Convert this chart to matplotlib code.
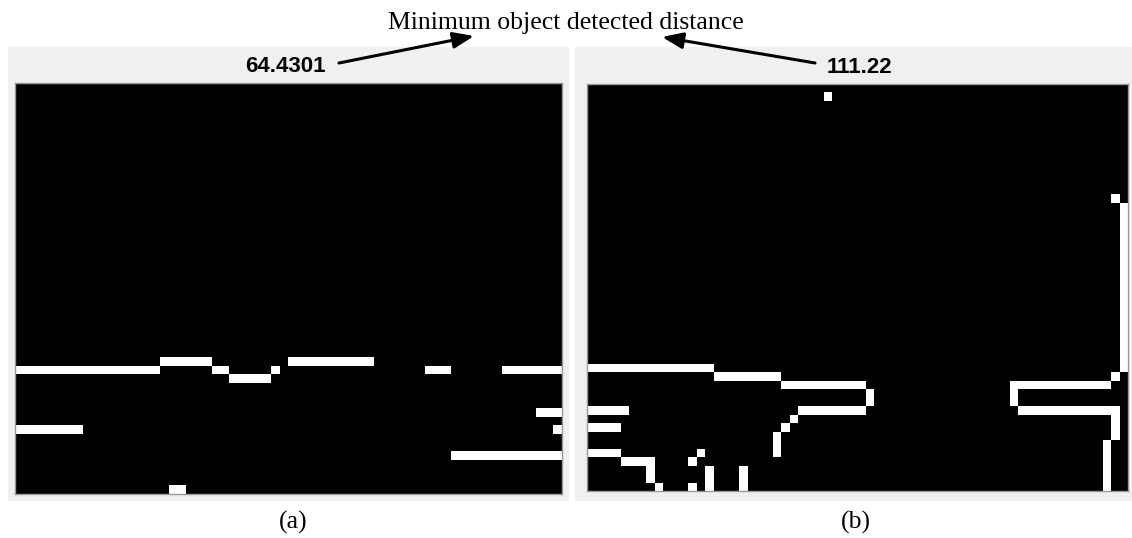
import numpy as np
import matplotlib
matplotlib.use("Agg")
import matplotlib.pyplot as plt
from matplotlib.patches import Rectangle, FancyArrowPatch

W, H = 1132, 538
ROWS, COLS = 48, 64

# white runs in each binary image: (row, first col, last col)
left_runs = [
    (32, 17, 22), (32, 32, 41),
    (33, 0, 16), (33, 23, 24), (33, 30, 30), (33, 48, 50), (33, 57, 63),
    (34, 25, 29),
    (38, 61, 63),
    (40, 0, 7), (40, 63, 63),
    (43, 51, 63),
    (47, 18, 19),
]
right_runs = [
    (1, 28, 28), (13, 62, 62),
    (33, 0, 14),
    (34, 15, 22), (34, 62, 62),
    (35, 23, 32), (35, 50, 61),
    (36, 33, 33), (36, 50, 50),
    (37, 33, 33), (37, 50, 50),
    (38, 0, 4), (38, 25, 32), (38, 51, 62),
    (39, 24, 24), (39, 62, 62),
    (40, 0, 3), (40, 23, 23), (40, 62, 62),
    (41, 22, 22), (41, 62, 62),
    (42, 22, 22), (42, 61, 61),
    (43, 0, 3), (43, 13, 13), (43, 22, 22), (43, 61, 61),
    (44, 4, 7), (44, 12, 12), (44, 61, 61),
    (45, 7, 7), (45, 14, 14), (45, 18, 18), (45, 61, 61),
    (46, 7, 7), (46, 14, 14), (46, 18, 18), (46, 61, 61),
    (47, 8, 8), (47, 12, 12), (47, 14, 14), (47, 18, 18), (47, 61, 61),
]
# vertical runs: (col, first row, last row)
right_vruns = [(63, 14, 33)]

titles = ["64.4301", "111.22"]
captions = ["(a)", "(b)"]
note = "Minimum object detected distance"


def build(runs, vruns=()):
    img = np.zeros((ROWS, COLS))
    for r, c0, c1 in runs:
        img[r, c0:c1 + 1] = 1
    for c, r0, r1 in vruns:
        img[r0:r1 + 1, c] = 1
    return img


def box(x0, y0, x1, y1):
    # pixel box (top-left origin) -> figure rect
    return [x0 / W, 1 - y1 / H, (x1 - x0) / W, (y1 - y0) / H]


def fx(x):
    return x / W


def fy(y):
    return 1 - y / H


fig = plt.figure(figsize=(W / 100, H / 100), dpi=100, facecolor="white")

# gray figure panels, kept behind the image axes
for x0, x1 in [(8, 569), (575, 1132)]:
    fig.patches.append(Rectangle((fx(x0), fy(501)), (x1 - x0) / W, (501 - 47) / H,
                                 transform=fig.transFigure, facecolor="#f0f0f0",
                                 edgecolor="none", zorder=-10))

images = [build(left_runs), build(right_runs, right_vruns)]
rects = [(15, 83, 562, 494), (587, 84, 1128, 491)]
for img, rc in zip(images, rects):
    ax = fig.add_axes(box(*rc), zorder=1)
    ax.imshow(img, cmap="gray", vmin=0, vmax=1, interpolation="nearest", aspect="auto")
    ax.set_xticks([])
    ax.set_yticks([])
    for s in ax.spines.values():
        s.set_color("#9a9a9a")
        s.set_linewidth(1)

# titles above each image
fig.text(fx(285), fy(72), titles[0], ha="center", va="baseline",
         fontsize=16, fontweight="bold", family="Liberation Sans")
fig.text(fx(859), fy(73), titles[1], ha="center", va="baseline",
         fontsize=16, fontweight="bold", family="Liberation Sans")

# annotation
fig.text(fx(566), fy(29), note, ha="center", va="baseline",
         fontsize=18.5, family="Liberation Serif")
arrow = dict(arrowstyle="-|>,head_length=0.9,head_width=0.35", color="black", lw=2.2,
             shrinkA=0, shrinkB=0)
fig.add_artist(FancyArrowPatch((fx(339), fy(63)), (fx(474), fy(36)),
                               transform=fig.transFigure, mutation_scale=14, **arrow))
fig.add_artist(FancyArrowPatch((fx(815), fy(63)), (fx(662), fy(37)),
                               transform=fig.transFigure, mutation_scale=14, **arrow))

# captions
fig.text(fx(293), fy(529), captions[0], ha="center", va="baseline",
         fontsize=18.5, family="Liberation Serif")
fig.text(fx(856), fy(529), captions[1], ha="center", va="baseline",
         fontsize=18.5, family="Liberation Serif")

fig.savefig("out.png", dpi=100, facecolor="white")
